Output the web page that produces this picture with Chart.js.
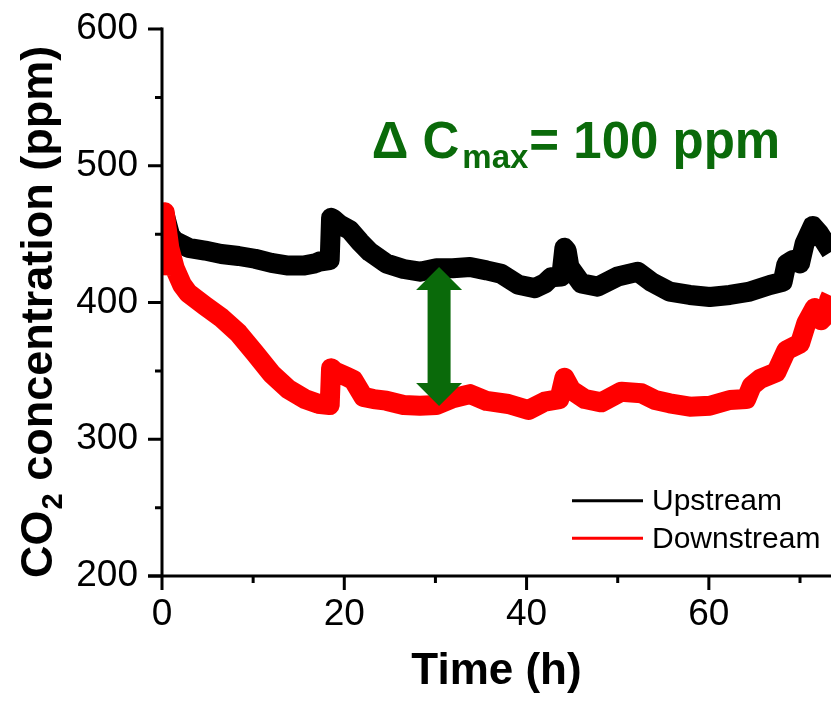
<!DOCTYPE html>
<html><head><meta charset="utf-8">
<script src="https://cdn.jsdelivr.net/npm/chart.js@4.4.1/dist/chart.umd.min.js"></script>
<style>html,body{margin:0;padding:0;background:#fff;}#wrap{width:831px;height:704px;}</style>
</head><body><div id="wrap"><canvas id="c" width="831" height="704"></canvas></div>
<script>
// ---- data ----
const upstreamTime = [0.0,0.3,0.9,1.4,2.9,4.7,6.5,8.4,10.2,12.0,13.85,15.5,16.8,17.3,18.4,18.55,18.8,19.5,20.6,21.7,22.8,24.6,26.5,28.3,30.1,31.9,33.8,35.6,37.2,39.1,40.9,42.0,42.7,43.8,44.15,44.4,44.7,46.0,47.8,50.0,52.2,53.7,55.7,57.9,60.1,62.3,64.5,66.7,68.1,68.5,69.2,70.0,70.5,71.4,72.1,73.4];
const upstreamCO2  = [458,464,449,445,440,438,435.5,434,432,429,427,427,428.6,430,431,462,461,457,453,444.5,437,428.6,424.5,422.5,425,425,426,423.5,421,413,410.5,414,418.4,419,440,438,426,414,411.6,419,422.5,415,408,405.5,404,405.5,408,412.8,415.2,428,431,428.6,443,456,450.6,437];
const downstreamTime = [0.0,0.15,0.3,0.5,0.8,1.4,2.2,2.9,4.7,6.5,8.4,10.2,12.0,13.85,15.7,17.1,18.4,18.55,19.0,20.25,21.0,22.1,23.2,24.6,26.5,28.3,30.1,31.9,33.8,35.6,38.0,40.2,42.0,43.6,44.15,44.9,46.4,48.2,50.4,52.6,54.1,55.7,57.9,60.1,62.3,64.1,64.7,65.6,67.4,68.5,70.0,70.7,71.6,72.3,73.0,73.2,73.4];
const downstreamCO2  = [420,450,466,455,440,425,413,406.7,397.7,389,377.5,363,348,336.7,329.4,326,325,352,349.4,345.8,343.3,331,329.4,328.2,325,324.5,325,330,333,328,325.8,321.4,327.5,329.4,345,336,329.4,327,334.8,333.6,328.7,326.3,323.8,324.5,328.7,329.4,339,344,349,365,370,385,396,387,392,402,405];
const seriesNames = ['Upstream','Downstream'];
const seriesColors = ['#000000','#ff0000'];
const xMajorTicks = [0,20,40,60];
const xMinorTicks = [10,30,50,70];
const yMajorTicks = [200,300,400,500,600];
const yMinorTicks = [250,350,450,550];
const xTitle = 'Time (h)';
const yTitleParts = ['CO','2',' concentration (ppm)'];
const deltaParts = ['\u0394 C','max','= 100 ppm'];
const arrowAt = {x:30.4, yTop:426, yBottom:324.3};

const FONT = '"Liberation Sans", Arial, sans-serif';
const GREEN = '#0a6a0a';

const toXY = (t, v) => t.map((x, i) => ({x, y: v[i]}));

const decorPlugin = {
  id: 'decor',
  afterDatasetsDraw(chart) {
    const {ctx, chartArea: a, scales: {x, y}} = chart;
    ctx.save();
    // arrow
    const ax = x.getPixelForValue(arrowAt.x);
    const yT = y.getPixelForValue(arrowAt.yTop), yB = y.getPixelForValue(arrowAt.yBottom);
    const hh = 23, hw = 23, sw = 11.5;
    ctx.fillStyle = GREEN;
    ctx.beginPath();
    ctx.moveTo(ax, yT);
    ctx.lineTo(ax + hw, yT + hh); ctx.lineTo(ax + sw, yT + hh);
    ctx.lineTo(ax + sw, yB - hh); ctx.lineTo(ax + hw, yB - hh);
    ctx.lineTo(ax, yB);
    ctx.lineTo(ax - hw, yB - hh); ctx.lineTo(ax - sw, yB - hh);
    ctx.lineTo(ax - sw, yT + hh); ctx.lineTo(ax - hw, yT + hh);
    ctx.closePath(); ctx.fill();
    // delta text
    let tx = x.getPixelForValue(23.0);
    const ty = y.getPixelForValue(505.4);
    ctx.textBaseline = 'alphabetic'; ctx.textAlign = 'left';
    ctx.font = 'bold 51px ' + FONT;
    ctx.fillText(deltaParts[0], tx, ty); tx += ctx.measureText(deltaParts[0]).width + 3;
    ctx.font = 'bold 33px ' + FONT;
    ctx.fillText(deltaParts[1], tx, ty + 10); tx += ctx.measureText(deltaParts[1]).width + 1;
    ctx.font = 'bold 51px ' + FONT;
    ctx.fillText(deltaParts[2], tx, ty);
    ctx.restore();
  },
  afterDraw(chart) {
    const {ctx, chartArea: a, scales: {x, y}} = chart;
    ctx.save();
    ctx.strokeStyle = '#000'; ctx.lineWidth = 3; ctx.lineCap = 'butt';
    // axes
    ctx.beginPath();
    ctx.moveTo(a.left, a.top - 1.5); ctx.lineTo(a.left, a.bottom);
    ctx.moveTo(a.left - 14, a.bottom); ctx.lineTo(a.right, a.bottom);
    ctx.stroke();
    // ticks
    ctx.beginPath();
    xMajorTicks.forEach(v => { const p = x.getPixelForValue(v); ctx.moveTo(p, a.bottom); ctx.lineTo(p, a.bottom + 14); });
    xMinorTicks.forEach(v => { const p = x.getPixelForValue(v); ctx.moveTo(p, a.bottom); ctx.lineTo(p, a.bottom + 7); });
    yMajorTicks.forEach(v => { const p = y.getPixelForValue(v); ctx.moveTo(a.left, p); ctx.lineTo(a.left - 14, p); });
    yMinorTicks.forEach(v => { const p = y.getPixelForValue(v); ctx.moveTo(a.left, p); ctx.lineTo(a.left - 7, p); });
    ctx.stroke();
    // y title
    ctx.fillStyle = '#000';
    ctx.translate(52, 578);
    ctx.rotate(-Math.PI / 2);
    ctx.textBaseline = 'alphabetic'; ctx.textAlign = 'left';
    let px = 0;
    ctx.font = 'bold 45px ' + FONT; ctx.fillText(yTitleParts[0], px, 0); px += ctx.measureText(yTitleParts[0]).width + 1;
    ctx.font = 'bold 29px ' + FONT; ctx.fillText(yTitleParts[1], px, 10); px += ctx.measureText(yTitleParts[1]).width;
    ctx.font = 'bold 45px ' + FONT; ctx.fillText(yTitleParts[2], px, 0);
    ctx.restore();
    // legend
    ctx.save();
    chart.data.datasets.forEach((ds, i) => {
      const ly = 500.7 + i * 37.6;
      ctx.strokeStyle = ds.borderColor; ctx.lineWidth = 3;
      ctx.beginPath(); ctx.moveTo(572, ly); ctx.lineTo(643, ly); ctx.stroke();
      ctx.fillStyle = '#000'; ctx.font = '30px ' + FONT;
      ctx.textBaseline = 'alphabetic'; ctx.textAlign = 'left';
      ctx.fillText(ds.label, 652, 510 + i * 38.3);
    });
    ctx.restore();
  }
};

new Chart(document.getElementById('c'), {
  type: 'line',
  data: {
    datasets: [
      {label: seriesNames[0], data: toXY(upstreamTime, upstreamCO2), borderColor: seriesColors[0], backgroundColor: seriesColors[0], borderWidth: 20, pointRadius: 0, tension: 0, order: 1, borderJoinStyle: 'round', clip: {left: 0, right: 0, top: 30, bottom: 30}},
      {label: seriesNames[1], data: toXY(downstreamTime, downstreamCO2), borderColor: seriesColors[1], backgroundColor: seriesColors[1], borderWidth: 20, pointRadius: 0, tension: 0, order: 0, borderJoinStyle: 'round', clip: {left: 0, right: 0, top: 30, bottom: 30}}
    ]
  },
  options: {
    responsive: false, animation: false, devicePixelRatio: 1,
    layout: {padding: {top: 29, right: 0, left: 0, bottom: 0}},
    plugins: {legend: {display: false}, tooltip: {enabled: false}},
    scales: {
      x: {
        type: 'linear', min: 0, max: 73.4,
        afterBuildTicks: s => { s.ticks = xMajorTicks.map(v => ({value: v})); },
        afterFit: s => { s.height = 128; s.paddingLeft = 0; s.paddingRight = 0; },
        grid: {display: false, drawTicks: false}, border: {display: false},
        ticks: {font: {family: FONT, size: 37}, color: '#000', padding: 17, maxRotation: 0, autoSkip: false},
        title: {display: true, text: xTitle, color: '#000', font: {family: FONT, size: 44, weight: 'bold'}, padding: {top: 0, bottom: 6}}
      },
      y: {
        type: 'linear', min: 200, max: 600,
        afterBuildTicks: s => { s.ticks = yMajorTicks.map(v => ({value: v})); },
        afterFit: s => { s.width = 162; s.paddingTop = 0; s.paddingBottom = 0; },
        grid: {display: false, drawTicks: false}, border: {display: false},
        ticks: {font: {family: FONT, size: 37}, color: '#000', padding: 24, autoSkip: false}
      }
    }
  },
  plugins: [decorPlugin]
});
</script></body></html>
